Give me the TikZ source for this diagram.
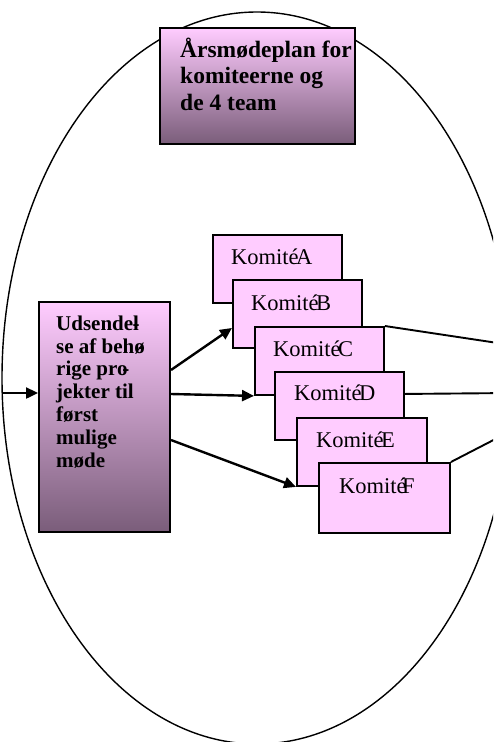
\documentclass[tikz,border=0pt]{standalone}
\usepackage{fontspec}
\setmainfont{Liberation Serif}
\usetikzlibrary{arrows.meta}
\definecolor{pinktop}{RGB}{255,204,255}
\definecolor{mauvebot}{RGB}{122,93,122}
\definecolor{komfill}{RGB}{255,204,255}
\begin{document}
\begin{tikzpicture}[x=1pt,y=-1pt,
  gradbox/.style={draw=black,line width=2pt,top color=pinktop,bottom color=mauvebot,inner sep=0pt,anchor=north west},
  kombox/.style={draw=black,line width=1.9pt,fill=komfill,inner sep=0pt,anchor=north west},
  komtext/.style={anchor=base west,inner sep=0pt,font=\fontsize{22.5}{24}\selectfont},
  conn/.style={line width=2.4pt,-{Triangle[length=12pt,width=11pt]}},
  plainline/.style={line width=1.9pt}]
\useasboundingbox (0,0) rectangle (493,742);
\clip (0,0) rectangle (493,742);
% outer ellipse
\draw[line width=1.4pt] (257,378) ellipse [x radius=255, y radius=366];
% title
\node[gradbox,minimum width=195pt,minimum height=116pt] (title) at (159,27) {};
\node[anchor=base west,inner sep=0pt,align=left,font=\bfseries\fontsize{23.5}{26.5}\selectfont] (titletext) at (180,110)
  {Årsmødeplan for\\komiteerne og\\de 4 team};
% source box
\node[gradbox,minimum width=131pt,minimum height=230pt] (src) at (38,301) {};
\node[anchor=base west,inner sep=0pt,align=left,font=\bfseries\fontsize{21}{22.8}\selectfont] (srctext) at (56,467)
  {Udsendel\kern-0.3em-\\se af behø\kern-0.33em-\\rige pro\kern-0.25em-\\jekter til\\først\\mulige\\møde};
% committee boxes
\node[kombox,minimum width=129pt,minimum height=68pt] (ka) at (212,234) {};
\node[komtext] (kat) at (231,264) {Komité\kern-0.12em A};
\node[kombox,minimum width=129pt,minimum height=68pt] (kb) at (232,279) {};
\node[komtext] (kbt) at (251,310) {Komité\kern-0.12em B};
\node[kombox,minimum width=129pt,minimum height=68pt] (kc) at (254,326) {};
\node[komtext] (kct) at (273,356) {Komité\kern-0.12em C};
\node[kombox,minimum width=129pt,minimum height=68pt] (kd) at (274,371) {};
\node[komtext] (kdt) at (294,400) {Komité\kern-0.12em D};
\node[kombox,minimum width=130pt,minimum height=68pt] (ke) at (296,417) {};
\node[komtext] (ket) at (316,447) {Komité\kern-0.12em E};
\node[kombox,minimum width=131pt,minimum height=70pt] (kf) at (318,462) {};
\node[komtext] (kft) at (339,493) {Komité\kern-0.2em F};
% connectors
\coordinate (inL) at (2,393);
\draw[conn] (inL) -- (inL -| src.west);
\draw[conn] ([yshift=47pt]src.east) -- ([yshift=-14pt]kb.west);
\draw[conn] ([yshift=23pt]src.east) -- (kc.south west);
\draw[conn] ([yshift=-23pt]src.east) -- (ke.south west);
\coordinate (rc) at (511,345);
\coordinate (rd) at (512,393);
\coordinate (rf) at (509,432);
\draw[plainline] (kc.north east) -- (rc);
\draw[plainline] ([yshift=12pt]kd.east) -- (rd);
\draw[plainline] (kf.north east) -- (rf);
\end{tikzpicture}
\end{document}
